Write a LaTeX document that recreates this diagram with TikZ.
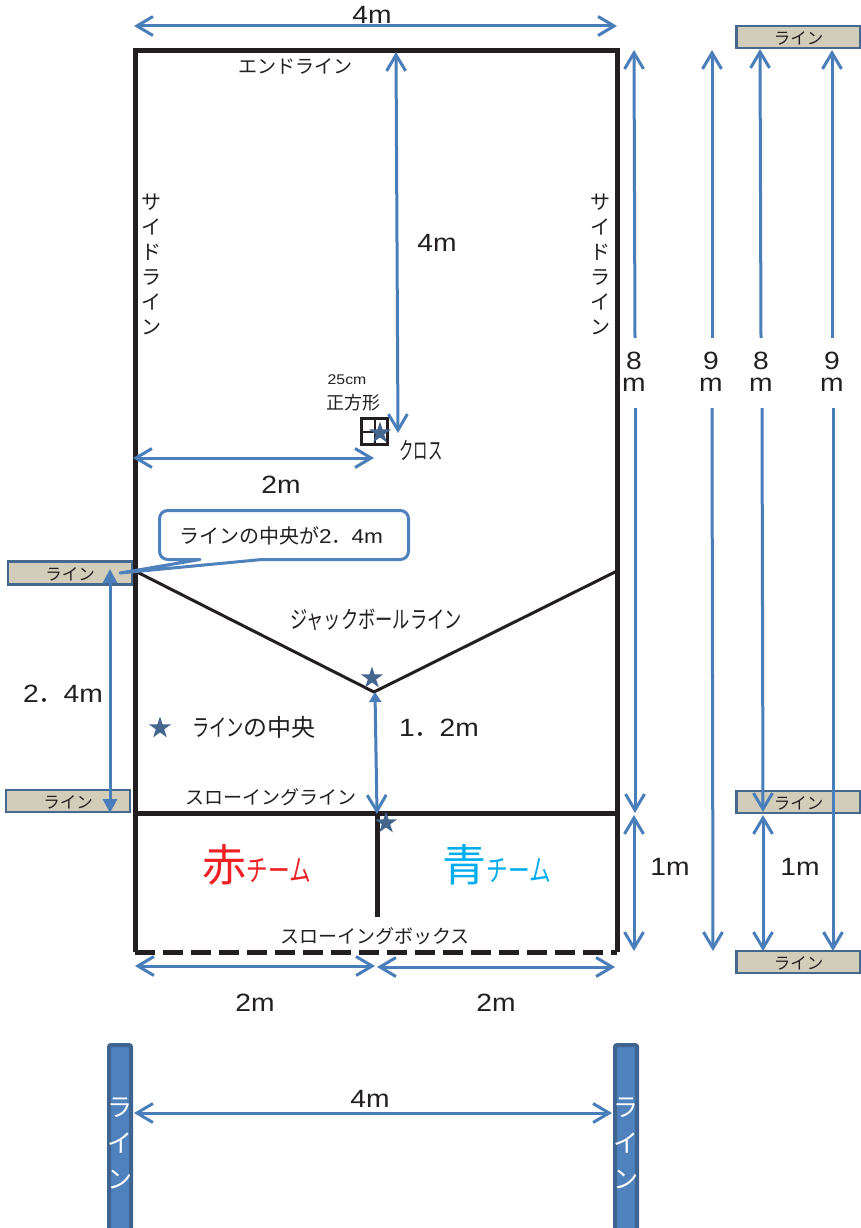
\documentclass[tikz,border=0pt]{standalone}
\usepackage{fontspec}
\setmainfont{Liberation Sans}
\newfontfamily\digits[FakeStretch=1.13]{Liberation Sans}
\newfontfamily\cjk{Noto Sans CJK JP}
\newfontfamily\cjknarrow[FakeStretch=0.72]{Noto Sans CJK JP}
\newfontfamily\cjkslim[FakeStretch=0.6]{Noto Sans CJK JP}
\usetikzlibrary{arrows.meta,shapes.geometric}
\definecolor{dimblue}{HTML}{4A7EBB}
\definecolor{boxline}{HTML}{44688F}
\definecolor{boxtan}{HTML}{D2CDB9}
\definecolor{barblue}{HTML}{4F81BD}
\definecolor{barline}{HTML}{3F6490}
\definecolor{starblue}{HTML}{44658E}
\definecolor{ink}{HTML}{231F20}
\tikzset{
  dimarrow/.style={draw=dimblue,line width=3pt,{Straight Barb[length=16pt,width=19pt,line width=3pt]}-{Straight Barb[length=16pt,width=19pt,line width=3pt]}},
  upbarb/.style={draw=dimblue,line width=3pt,{Straight Barb[length=16pt,width=19pt,line width=3pt]}-},
  downbarb/.style={draw=dimblue,line width=3pt,-{Straight Barb[length=16pt,width=19pt,line width=3pt]}},
  solidarrow/.style={draw=dimblue,line width=3pt,{Triangle[length=14pt,width=14pt]}-{Triangle[length=14pt,width=14pt]}},
  mixedarrow/.style={draw=dimblue,line width=3pt,{Triangle[length=10pt,width=12pt]}-{Straight Barb[length=16pt,width=19pt,line width=3pt]}},
  court/.style={draw=ink,line width=5pt},
  vline/.style={draw=ink,line width=3pt},
  lab/.style={inner sep=0pt,text=ink},
  dimlab/.style={lab,font=\digits\fontsize{25}{25}\selectfont},
  vdim/.style={lab,align=center,font=\digits\fontsize{25}{22}\selectfont},
  jp/.style={lab,font=\cjk\fontsize{19}{19}\selectfont},
  vjp/.style={lab,align=center,font=\cjk\fontsize{20}{25}\selectfont},
  tanbox/.style={draw=boxline,fill=boxtan,line width=2.4pt,minimum width=124pt,minimum height=22pt,inner sep=0pt,text=ink,text height=15.5pt,text depth=0pt,font=\cjk\fontsize{16.5}{16.5}\selectfont},
  bar/.style={draw=barline,fill=barblue,line width=4pt,rounded corners=2pt},
  bartext/.style={inner sep=0pt,align=center,text=white,font=\cjk\fontsize{25}{36}\selectfont},
  stardot/.style={star,star points=5,star point ratio=2.618,fill=starblue,minimum size=23pt,inner sep=0pt}
}
\begin{document}
\begin{tikzpicture}[x=1pt,y=-1pt]
\clip (0,0) rectangle (861,1228);
\fill[white] (0,0) rectangle (861,1228);
% court
\coordinate (tl) at (135,51);
\coordinate (tr) at (617,51);
\coordinate (bl) at (135,952);
\coordinate (br) at (617,952);
\coordinate (ml) at (135,813);
\coordinate (mr) at (617,813);
\coordinate (mc) at (377,813);
\coordinate (mb) at (377,917);
\coordinate (vl) at (135,571);
\coordinate (vc) at (374,692);
\coordinate (vr) at (617,571);
\draw[court,line join=miter] (bl) -- (tl) -- (tr) -- (br);
\draw[court] (ml) -- (mr);
\draw[court] (mc) -- (mb);
\draw[court,dash pattern=on 20pt off 8pt] (bl) -- (br);
\draw[vline,line join=miter] (vl) -- (vc) -- (vr);
% small square
\node[draw=ink,line width=2.7pt,minimum size=25.5pt,inner sep=0pt] (sq) at (374.5,431.5) {};
\draw[ink,line width=2pt] (sq.north) -- (sq.south);
\draw[ink,line width=2pt] (sq.west) -- (sq.east);
% line boxes
\node[tanbox,minimum height=23pt] (box1) at (70,573) {ライン};
\node[tanbox] (box2) at (68,801) {ライン};
\node[tanbox] (box3) at (798.5,37) {ライン};
\node[tanbox] (box4) at (798.5,802) {ライン};
\node[tanbox] (box5) at (798.5,962) {ライン};
% vertical bars
\draw[bar] (109,1045) rectangle (131,1240);
\draw[bar] (615,1045) rectangle (637,1240);
\node[bartext] (bar1) at (120,1143) {ラ\\イ\\ン};
\node[bartext] (bar2) at (626,1143) {ラ\\イ\\ン};
% dimension arrows
\coordinate (a1) at (134,26); \coordinate (a2) at (617,26);
\draw[dimarrow] (a1) -- (a2);
\coordinate (b1) at (396,52); \coordinate (b2) at (398,433);
\draw[dimarrow] (b1) -- (b2);
\coordinate (c1) at (133,458); \coordinate (c2) at (374,458);
\draw[dimarrow] (c1) -- (c2);
\coordinate (d1) at (634,50); \coordinate (d2) at (635,338);
\coordinate (d3) at (635,408); \coordinate (d4) at (635,813);
\draw[upbarb] (d1) -- (d2);
\draw[downbarb] (d3) -- (d4);
\coordinate (e1) at (712,50); \coordinate (e2) at (712,338);
\coordinate (e3) at (712,408); \coordinate (e4) at (713,951);
\draw[upbarb] (e1) -- (e2);
\draw[downbarb] (e3) -- (e4);
\coordinate (f1) at (760,49); \coordinate (f2) at (761,338);
\coordinate (f3) at (762,408); \coordinate (f4) at (763,812);
\draw[upbarb] (f1) -- (f2);
\draw[downbarb] (f3) -- (f4);
\coordinate (g1) at (832,50); \coordinate (g2) at (832,338);
\coordinate (g3) at (833,408); \coordinate (g4) at (833,951);
\draw[upbarb] (g1) -- (g2);
\draw[downbarb] (g3) -- (g4);
\coordinate (h1) at (634,815); \coordinate (h2) at (634,951);
\draw[dimarrow] (h1) -- (h2);
\coordinate (i1) at (763,815); \coordinate (i2) at (763,951);
\draw[dimarrow] (i1) -- (i2);
\coordinate (j1) at (110,569); \coordinate (j2) at (110,813);
\draw[solidarrow] (j1) -- (j2);
\coordinate (k1) at (375,692); \coordinate (k2) at (377,814);
\draw[mixedarrow] (k1) -- (k2);
\coordinate (l1) at (135,966); \coordinate (l2) at (375,966);
\draw[dimarrow] (l1) -- (l2);
\coordinate (m1) at (377,967); \coordinate (m2) at (615,967);
\draw[dimarrow] (m1) -- (m2);
\coordinate (n1) at (134,1113); \coordinate (n2) at (612,1113);
\draw[dimarrow] (n1) -- (n2);
% callout
\coordinate (tip) at (120,573);
\draw[draw=barblue,fill=white,line width=3pt,line join=round]
  (tip) -- (200,559.5) -- (168,559.5)
  .. controls (163,559.5) and (159.5,556) .. (159.5,551)
  -- (159.5,519)
  .. controls (159.5,514) and (163,510.5) .. (168,510.5)
  -- (400,510.5)
  .. controls (405,510.5) and (408.5,514) .. (408.5,519)
  -- (408.5,551)
  .. controls (408.5,556) and (405,559.5) .. (400,559.5)
  -- (262,559.5) -- cycle;
\node[lab,font=\cjk\fontsize{20}{20}\selectfont] (callout) at (281,536) {ラインの中央が{\digits 2}．{\digits 4m}};
% stars
\node[stardot] (s1) at (380,433) {};
\node[stardot] (s2) at (372,678) {};
\node[stardot] (s3) at (386,823) {};
\node[stardot] (s4) at (160,728) {};
% labels
\node[dimlab] (t1) at (372,15) {4m};
\node[dimlab] (t2) at (437,243) {4m};
\node[dimlab] (t3) at (281,485) {2m};
\node[dimlab] (t4) at (255,1003) {2m};
\node[dimlab] (t5) at (496,1003) {2m};
\node[dimlab] (t6) at (370,1099) {4m};
\node[dimlab] (t7) at (670,867) {1m};
\node[dimlab] (t8) at (800,867) {1m};
\node[dimlab] (t9) at (63,694) {2{\cjk ．}4m};
\node[dimlab] (t10) at (439,728) {1{\cjk ．}2m};
\node[vdim] (v1) at (634,372) {8\\m};
\node[vdim] (v2) at (711,372) {9\\m};
\node[vdim] (v3) at (761,372) {8\\m};
\node[vdim] (v4) at (832,372) {9\\m};
\node[jp] (j1t) at (295,66) {エンドライン};
\node[vjp] (sl) at (151,264) {サ\\イ\\ド\\ラ\\イ\\ン};
\node[vjp] (sr) at (600,264) {サ\\イ\\ド\\ラ\\イ\\ン};
\node[lab,font=\digits\fontsize{14}{14}\selectfont] (q1) at (347,380) {25cm};
\node[jp,font=\cjk\fontsize{18}{18}\selectfont] (q2) at (353,403) {正方形};
\node[lab,font=\cjkslim\fontsize{24}{24}\selectfont] (cross) at (421,450) {クロス};
\node[lab,font=\cjknarrow\fontsize{24}{24}\selectfont] (jack) at (376,620) {ジャックボールライン};
\node[lab,font=\fontsize{24}{24}\selectfont] (mid) at (254,727) {{\cjknarrow ライン}{\cjk の中央}};
\node[jp] (throw1) at (271,797) {スローイングライン};
\node[jp] (throw2) at (375,936) {スローイングボックス};
\node[inner sep=0pt,text={rgb,255:red,237;green,32;blue,36},font=\fontsize{44}{44}\selectfont] (red) at (257,865) {{\cjk 赤}{\cjknarrow\fontsize{30}{30}\selectfont チーム}};
\node[inner sep=0pt,text={rgb,255:red,0;green,174;blue,239},font=\fontsize{44}{44}\selectfont] (blue) at (497,865) {{\cjk 青}{\cjknarrow\fontsize{30}{30}\selectfont チーム}};
\end{tikzpicture}
\end{document}
